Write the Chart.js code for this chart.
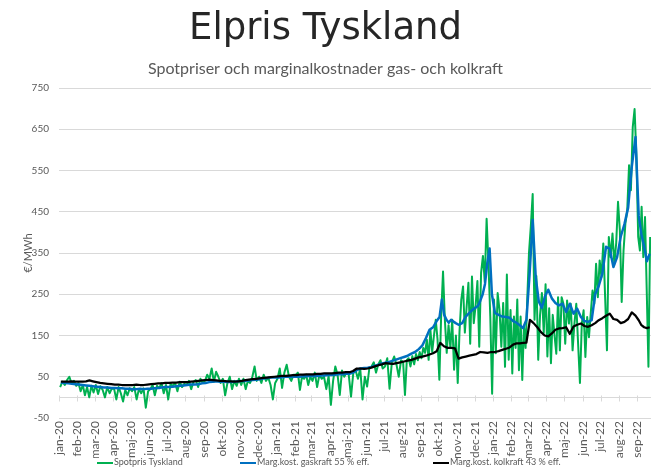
<!DOCTYPE html>
<html>
<head>
<meta charset="utf-8">
<script src="https://cdn.jsdelivr.net/npm/chart.js@4.4.1/dist/chart.umd.min.js"></script>
<style>
  html, body { margin: 0; padding: 0; background: #fff; }
  #wrap { position: relative; width: 664px; height: 468px; }
  #legend { position: absolute; left: 0; top: 455px; width: 664px; height: 13px; font: 9px Lato, sans-serif; color: #595959; }
  .item { position: absolute; top: 0; white-space: nowrap; line-height: 13px; }
  .swatch { display: inline-block; width: 16px; height: 2px; vertical-align: middle; margin-right: 1px; }
</style>
</head>
<body>
<div id="wrap">
  <canvas id="chart" width="664" height="468"></canvas>
  <div id="legend"></div>
</div>
<script>
// month tick labels, jan-20 .. sep-22
var monthLabels = [
  'jan-20', 'feb-20', 'mar-20', 'apr-20', 'maj-20', 'jun-20', 'jul-20', 'aug-20', 'sep-20', 'okt-20', 'nov-20', 'dec-20',
  'jan-21', 'feb-21', 'mar-21', 'apr-21', 'maj-21', 'jun-21', 'jul-21', 'aug-21', 'sep-21', 'okt-21', 'nov-21', 'dec-21',
  'jan-22', 'feb-22', 'mar-22', 'apr-22', 'maj-22', 'jun-22', 'jul-22', 'aug-22', 'sep-22'
];

// last day with data (days after 1 jan 2020)
var endDay = 997;

var seriesNames = ['Spotpris Tyskland', 'Marg.kost. gaskraft 55 % eff.', 'Marg.kost. kolkraft 43 % eff.'];
var seriesColors = ['#00B050', '#0070C0', '#000000'];

// spot price, values spread evenly over each month (EUR/MWh)
var spotByMonth = [
  [25, 38, 30, 42, 50, 33, 40, 28],
  [35, 15, 30, 5, 25, 0, 28, 12],
  [30, 8, 27, 18, 0, 25, 10, 22],
  [20, -5, 25, 10, -10, 18, 5, 22],
  [15, 25, -5, 20, 10, 22, -25, 15],
  [20, 30, 5, 28, 22, 35, 10, 30],
  [-5, 32, 28, 35, 15, 38, 25, 33],
  [30, 40, 20, 38, 42, 25, 45, 35],
  [40, 55, 45, 70, 38, 62, 50, 35],
  [45, 5, 35, 50, 20, 40, 28, 45],
  [30, 45, 20, 40, 35, 50, 75, 40],
  [50, 35, 55, 40, 48, 30, -5, 35],
  [45, 70, 23, 60, 79, 50, 40, 55],
  [55, 60, 18, 50, 45, 55, 30, 50],
  [40, 60, 25, 55, 45, 50, 20, 52],
  [-18, 40, 75, 55, 6, 65, 50, 60],
  [55, 2, 60, 65, 45, 70, -5, 50],
  [26, 70, 75, 85, 60, 80, 90, 70],
  [75, 95, 21, 85, 99, 80, 50, 90],
  [85, 6, 90, 95, 75, 100, 80, 105, 90, 110],
  [95, 120, 108, 140, 91, 164, 110, 150, 188, 140],
  [43, 200, 305, 188, 108, 175, 120, 188, 67, 150],
  [35, 160, 237, 269, 157, 220, 278, 130, 293, 180],
  [221, 282, 123, 302, 343, 280, 433, 326, 196, 9],
  [237, 107, 253, 212, 123, 229, 74, 298, 91, 212],
  [58, 196, 120, 237, 66, 196, 42, 172, 120, 237],
  [351, 416, 493, 188, 294, 91, 200, 253, 156, 274],
  [99, 216, 83, 200, 150, 106, 243, 114, 243, 227],
  [130, 235, 179, 227, 114, 179, 227, 130, 35, 179],
  [211, 98, 195, 146, 203, 259, 227, 324, 243, 332],
  [292, 373, 243, 114, 389, 340, 397, 324, 373, 474],
  [405, 231, 356, 421, 453, 563, 502, 655, 699, 583],
  [389, 356, 462, 340, 437, 259, 74, 389]
];

// marginal cost gas power 55 % eff.
var gasByMonth = [
  [36, 35, 34, 33, 32],
  [31, 30, 29, 28, 27],
  [26, 25, 24, 24, 23],
  [23, 22, 22, 21, 21],
  [20, 20, 21, 20, 21],
  [21, 22, 23, 24, 25],
  [25, 26, 27, 28, 29],
  [30, 31, 31, 32, 34],
  [35, 37, 38, 39, 38],
  [38, 37, 37, 38, 39],
  [40, 40, 41, 42, 43],
  [44, 46, 47, 48, 48],
  [48, 49, 50, 50, 50],
  [50, 50, 51, 51, 52],
  [52, 52, 53, 53, 54],
  [54, 55, 56, 56, 57],
  [57, 60, 66, 70, 71],
  [72, 74, 77, 79, 82],
  [84, 86, 89, 92, 95],
  [98, 101, 106, 110, 117],
  [126, 144, 164, 170, 185],
  [195, 237, 200, 188, 181, 188, 184, 180],
  [176, 180, 196, 205, 213],
  [218, 222, 235, 250, 275, 326, 361, 250],
  [205, 200, 196, 195, 193],
  [185, 181, 175, 168, 188],
  [300, 430, 290, 232, 217, 245],
  [261, 240, 229, 223, 227],
  [207, 227, 203, 215, 195],
  [185, 183, 187, 250, 270],
  [300, 365, 360, 316, 340],
  [390, 420, 460, 560, 631],
  [440, 395, 365, 330, 348]
];

// marginal cost coal power 43 % eff.
var coalByMonth = [
  [38, 38, 38, 39, 38],
  [38, 38, 39, 41, 39],
  [37, 35, 34, 33, 32],
  [31, 31, 30, 30, 30],
  [30, 31, 30, 30, 31],
  [32, 33, 34, 34, 35],
  [35, 36, 36, 37, 37],
  [37, 38, 39, 40, 41],
  [42, 43, 42, 41, 40],
  [40, 39, 39, 38, 39],
  [40, 42, 43, 44, 45],
  [46, 47, 48, 49, 50],
  [51, 52, 52, 53, 54],
  [54, 55, 55, 56, 56],
  [56, 57, 57, 58, 58],
  [58, 59, 60, 60, 61],
  [61, 64, 70, 70, 69],
  [70, 72, 75, 78, 80],
  [83, 82, 81, 83, 85],
  [87, 89, 91, 94, 97],
  [99, 101, 104, 107, 112],
  [132, 124, 120, 120, 119],
  [94, 97, 99, 101, 103],
  [105, 110, 109, 108, 110],
  [110, 112, 115, 118, 121],
  [128, 131, 131, 132, 133],
  [188, 180, 170, 158, 150],
  [148, 155, 164, 167, 168],
  [170, 154, 172, 176, 179],
  [173, 171, 175, 180, 187],
  [192, 198, 203, 190, 188],
  [180, 183, 190, 206, 198],
  [187, 175, 170, 168, 170]
];

// day number of each month start
var monthStarts = monthLabels.map(function (l, i) {
  return (Date.UTC(2020, i, 1) - Date.UTC(2020, 0, 1)) / 864e5;
});

function toPoints(byMonth) {
  var pts = [];
  byMonth.forEach(function (vals, m) {
    var start = monthStarts[m];
    var end = m + 1 < monthStarts.length ? monthStarts[m + 1] : endDay;
    var len = end - start;
    vals.forEach(function (v, j) {
      pts.push({ x: start + (j + 0.5) * len / vals.length, y: v });
    });
  });
  return pts;
}

// light axis line at 0 with month tick marks
var zeroAxis = {
  id: 'zeroAxis',
  beforeDatasetsDraw: function (chart) {
    var ctx = chart.ctx;
    var area = chart.chartArea;
    var xs = chart.scales.x;
    var y0 = Math.round(chart.scales.y.getPixelForValue(0)) + 0.5;
    ctx.save();
    ctx.strokeStyle = '#d9d9d9';
    ctx.lineWidth = 1;
    ctx.beginPath();
    ctx.moveTo(area.left, y0);
    ctx.lineTo(area.right, y0);
    monthStarts.forEach(function (d) {
      var px = Math.round(xs.getPixelForValue(d)) + 0.5;
      ctx.moveTo(px, y0 - 2);
      ctx.lineTo(px, y0 + 4);
    });
    ctx.stroke();
    ctx.restore();
  }
};

var ctx = document.getElementById('chart').getContext('2d');
var myChart = new Chart(ctx, {
  type: 'line',
  data: {
    datasets: [
      { label: seriesNames[0], data: toPoints(spotByMonth), borderColor: seriesColors[0], borderWidth: 2, order: 3 },
      { label: seriesNames[1], data: toPoints(gasByMonth), borderColor: seriesColors[1], borderWidth: 2.5, order: 2 },
      { label: seriesNames[2], data: toPoints(coalByMonth), borderColor: seriesColors[2], borderWidth: 2.25, order: 1 }
    ]
  },
  options: {
    responsive: false,
    devicePixelRatio: 1,
    animation: false,
    layout: {
      padding: { left: 0, right: 13, top: 0, bottom: 10 },
    },
    elements: {
      point: {
        radius: 0,
      },
      line: {
        tension: 0,
        borderJoinStyle: 'round',
      },
    },
    plugins: {
      legend: {
        display: false,
      },
      tooltip: {
        enabled: false,
      },
      title: {
        display: true,
        text: 'Elpris Tyskland',
        color: '#262626',
        font: { family: 'DejaVu Sans', size: 37, weight: 'normal' },
        padding: { top: 7, bottom: 0 },
      },
      subtitle: {
        display: true,
        text: 'Spotpriser och marginalkostnader gas- och kolkraft',
        color: '#595959',
        font: { family: 'Lato', size: 16, weight: 'normal' },
        padding: { top: 8, bottom: 9.4 },
      },
    },
    scales: {
      x: {
        type: 'linear',
        min: 0,
        max: endDay,
        afterBuildTicks: function (scale) {
          scale.ticks = monthStarts.map(function (d) { return { value: d }; });
        },
        afterFit: function (scale) {
          scale.height = 40;
        },
        ticks: {
          autoSkip: false,
          minRotation: 90,
          maxRotation: 90,
          padding: 3,
          color: '#595959',
          font: { family: 'Lato', size: 12 },
          callback: function (value, index) {
            return monthLabels[index];
          },
        },
        grid: {
          display: false,
          drawTicks: false,
        },
        border: {
          display: false,
        },
      },
      y: {
        min: -50,
        max: 750,
        afterFit: function (scale) {
          scale.width = 59;
        },
        ticks: {
          stepSize: 100,
          padding: 10,
          color: '#595959',
          font: { family: 'Lato', size: 10 },
        },
        grid: {
          color: '#d9d9d9',
          lineWidth: 1,
          drawTicks: false,
        },
        border: {
          display: false,
        },
        title: {
          display: true,
          text: '€/MWh',
          color: '#595959',
          font: { family: 'Lato', size: 11 },
          padding: { top: 22, bottom: 0 },
        },
      },
    },
  },
  plugins: [zeroAxis],
});

// legend below the axis labels
var legendLefts = [97, 240, 433];
var legendEl = document.getElementById('legend');
seriesNames.forEach(function (name, i) {
  var item = document.createElement('span');
  item.className = 'item';
  item.style.left = legendLefts[i] + 'px';
  var sw = document.createElement('span');
  sw.className = 'swatch';
  sw.style.background = seriesColors[i];
  item.appendChild(sw);
  item.appendChild(document.createTextNode(name));
  legendEl.appendChild(item);
});
</script>
</body>
</html>
